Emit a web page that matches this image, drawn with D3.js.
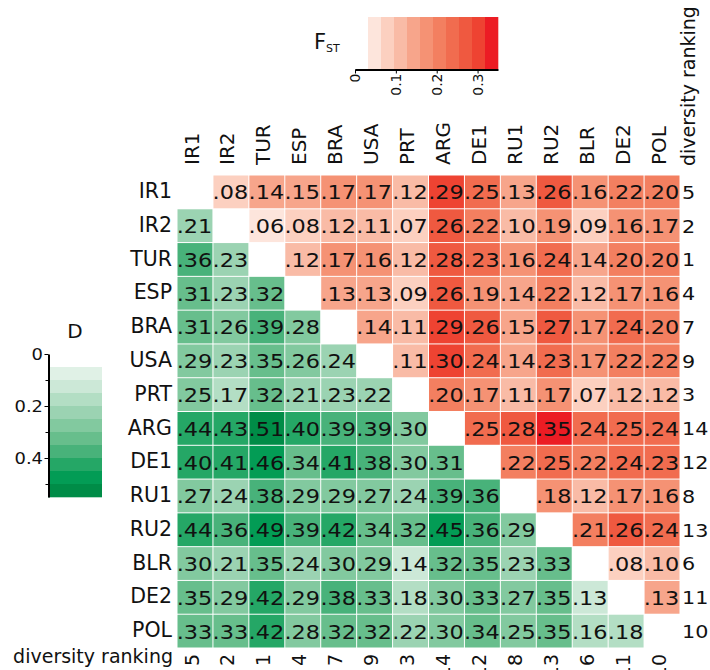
<!DOCTYPE html>
<html>
<head>
<meta charset="utf-8">
<script src="https://cdn.jsdelivr.net/npm/d3@7"></script>
<style>
  body { margin: 0; background: #fff; }
  text { font-family: "DejaVu Sans", sans-serif; fill: #111; }
</style>
</head>
<body>
<script>
// populations, in matrix order
var pops = ["IR1", "IR2", "TUR", "ESP", "BRA", "USA", "PRT", "ARG", "DE1", "RU1", "RU2", "BLR", "DE2", "POL"];
var ranking = [5, 2, 1, 4, 7, 9, 3, 14, 12, 8, 13, 6, 11, 10];

// upper triangle: pairwise FST, row i holds columns i+1 .. 13
var fst = [
  [.08, .14, .15, .17, .17, .12, .29, .25, .13, .26, .16, .22, .20],
  [.06, .08, .12, .11, .07, .26, .22, .10, .19, .09, .16, .17],
  [.12, .17, .16, .12, .28, .23, .16, .24, .14, .20, .20],
  [.13, .13, .09, .26, .19, .14, .22, .12, .17, .16],
  [.14, .11, .29, .26, .15, .27, .17, .24, .20],
  [.11, .30, .24, .14, .23, .17, .22, .22],
  [.20, .17, .11, .17, .07, .12, .12],
  [.25, .28, .35, .24, .25, .24],
  [.22, .25, .22, .24, .23],
  [.18, .12, .17, .16],
  [.21, .26, .24],
  [.08, .10],
  [.13]
];

// lower triangle: D, row i holds columns 0 .. i-1
var dist = [
  [],
  [.21],
  [.36, .23],
  [.31, .23, .32],
  [.31, .26, .39, .28],
  [.29, .23, .35, .26, .24],
  [.25, .17, .32, .21, .23, .22],
  [.44, .43, .51, .40, .39, .39, .30],
  [.40, .41, .46, .34, .41, .38, .30, .31],
  [.27, .24, .38, .29, .29, .27, .24, .39, .36],
  [.44, .36, .49, .39, .42, .34, .32, .45, .36, .29],
  [.30, .21, .35, .24, .30, .29, .14, .32, .35, .23, .33],
  [.35, .29, .42, .29, .38, .33, .18, .30, .33, .27, .35, .13],
  [.33, .33, .42, .28, .32, .32, .22, .30, .34, .25, .35, .16, .18]
];

var redBins = ["#ffffff", "#fde5dc", "#fcd0c0", "#f9bba6", "#f7a58b", "#f59274",
               "#f37f60", "#f16c4f", "#ef5940", "#ee4332", "#ec1c24"];
var greenBins = ["#ffffff", "#e0f1e6", "#cce8d7", "#b3dec4", "#9bd3b2", "#82c99f",
                 "#67be8c", "#48b27a", "#25a766", "#039c55", "#008c47"];

var w = 710, h = 670;
var stretch = 1.12; // numbers in the original are a bit wider than plain DejaVu

var svg = d3.select("body").append("svg")
    .attr("width", w)
    .attr("height", h);

var x = d3.scaleBand().domain(pops).range([177, 680]);
var y = d3.scaleBand().domain(pops).range([175, 648]);

var redScale = d3.scaleQuantize().domain([0, 0.35]).range(redBins);
var greenScale = d3.scaleQuantize().domain([0, 0.55]).range(greenBins);

var fmt = function(v) { return d3.format(".2f")(v).replace(/^0/, ""); };

// flatten the two triangles into cells
var cells = [];
pops.forEach(function(p, i) {
  fst[i] && fst[i].forEach(function(v, k) {
    cells.push({row: p, col: pops[i + 1 + k], value: v, type: "fst"});
  });
  dist[i].forEach(function(v, k) {
    cells.push({row: p, col: pops[k], value: v, type: "d"});
  });
});

var cell = svg.append("g").attr("class", "cells")
  .selectAll("g")
  .data(cells)
  .enter().append("g")
    .attr("transform", function(d) { return "translate(" + x(d.col) + "," + y(d.row) + ")"; });

cell.append("rect")
    .attr("x", 0.5)
    .attr("y", 0.5)
    .attr("width", x.bandwidth() - 1)
    .attr("height", y.bandwidth() - 1)
    .attr("fill", function(d) { return d.type == "fst" ? redScale(d.value) : greenScale(d.value); });

cell.append("text")
    .attr("transform", "translate(" + (x.bandwidth() / 2 - 0.5) + "," + (y.bandwidth() / 2) + ") scale(" + stretch + ",1)")
    .attr("dy", "0.37em")
    .attr("text-anchor", "middle")
    .style("font-size", "20px")
    .text(function(d) { return fmt(d.value); });

// row labels
svg.append("g").selectAll("text")
  .data(pops)
  .enter().append("text")
    .attr("x", 172)
    .attr("y", function(d) { return y(d) + y.bandwidth() / 2; })
    .attr("dy", "0.3em")
    .attr("text-anchor", "end")
    .style("font-size", "20.5px")
    .text(function(d) { return d; });

// column labels
svg.append("g").selectAll("text")
  .data(pops)
  .enter().append("text")
    .attr("transform", function(d) { return "translate(" + (x(d) + x.bandwidth() / 2 + 3.6) + ",165) rotate(-90)"; })
    .attr("text-anchor", "start")
    .style("font-size", "20px")
    .text(function(d) { return d; });

// diversity ranking, right side
svg.append("g").selectAll("text")
  .data(ranking)
  .enter().append("text")
    .attr("transform", function(d, i) { return "translate(682," + (y(pops[i]) + y.bandwidth() / 2) + ") scale(" + stretch + ",1)"; })
    .attr("dy", "0.37em")
    .style("font-size", "18.5px")
    .text(function(d) { return d; });

// diversity ranking, bottom
svg.append("g").selectAll("text")
  .data(ranking)
  .enter().append("text")
    .attr("transform", function(d, i) { return "translate(" + (x(pops[i]) + x.bandwidth() / 2 + 3.6) + ",654) rotate(-90)"; })
    .attr("text-anchor", "end")
    .style("font-size", "19px")
    .text(function(d) { return d; });

svg.append("text")
    .attr("transform", "translate(694.5,166) rotate(-90)")
    .style("font-size", "19px")
    .text("diversity ranking");

svg.append("text")
    .attr("x", 173)
    .attr("y", 663)
    .attr("text-anchor", "end")
    .style("font-size", "19px")
    .text("diversity ranking");

// FST legend (top)
var fx = d3.scaleLinear().domain([0, 0.35]).range([355, 498]);
var fstep = 0.35 / 11;
svg.append("g").selectAll("rect")
  .data(redBins.slice(1))
  .enter().append("rect")
    .attr("x", function(d, i) { return fx((i + 1) * fstep); })
    .attr("y", 17)
    .attr("width", fx(fstep) - fx(0) + 0.3)
    .attr("height", 52)
    .attr("fill", function(d) { return d; });

var fAxis = svg.append("g")
    .attr("transform", "translate(0,69.5)")
    .call(d3.axisBottom(fx).tickValues([0, 0.1, 0.2, 0.3]).tickSize(4).tickSizeOuter(0)
      .tickFormat(function(d) { return d == 0 ? "0" : d3.format(".1f")(d); }));
fAxis.select(".domain").attr("stroke-width", 2);
fAxis.selectAll("text")
    .attr("transform", "rotate(-90)")
    .attr("x", -4)
    .attr("y", 0)
    .attr("dy", "0.35em")
    .attr("text-anchor", "end")
    .style("font-size", "14px")
    .style("font-family", "DejaVu Sans");

var fLabel = svg.append("text")
    .attr("x", 314)
    .attr("y", 49)
    .style("font-size", "21px");
fLabel.append("tspan").text("F");
fLabel.append("tspan").attr("dy", 3).style("font-size", "11px").text("ST");

// D legend (left)
var dy = d3.scaleLinear().domain([0, 0.55]).range([354, 497]);
svg.append("g").selectAll("rect")
  .data(greenBins.slice(1))
  .enter().append("rect")
    .attr("x", 48)
    .attr("y", function(d, i) { return dy((i + 1) * 0.05); })
    .attr("width", 54)
    .attr("height", dy(0.05) - dy(0) + 0.3)
    .attr("fill", function(d) { return d; });

var dAxis = svg.append("g")
    .attr("transform", "translate(48.5,0)")
    .call(d3.axisLeft(dy).tickValues([0, 0.2, 0.4]).tickSize(4).tickSizeOuter(0)
      .tickFormat(function(d) { return d == 0 ? "0" : d3.format(".1f")(d); }));
dAxis.select(".domain").attr("stroke-width", 2);
dAxis.selectAll("text")
    .attr("x", null)
    .attr("transform", "translate(-5.5,0) scale(" + stretch + ",1)")
    .style("font-size", "16px")
    .style("font-family", "DejaVu Sans");

svg.append("g")
    .attr("transform", "translate(48.5,0)")
    .call(d3.axisLeft(dy).tickValues([0.1, 0.3, 0.5]).tickSize(3).tickFormat(""))
    .select(".domain").remove();

svg.append("text")
    .attr("x", 75)
    .attr("y", 338)
    .attr("text-anchor", "middle")
    .style("font-size", "20px")
    .text("D");
</script>
</body>
</html>
